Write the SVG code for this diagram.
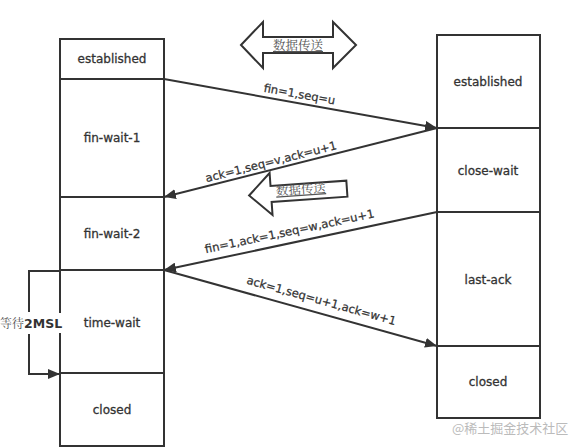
<svg xmlns="http://www.w3.org/2000/svg" width="572" height="448" viewBox="0 0 572 448">
<style>
.box{fill:#fff;stroke:#333;stroke-width:2}
.st{font-family:"DejaVu Sans","Liberation Sans",sans-serif;font-size:12px;fill:#333;stroke:#333;stroke-width:0.3;text-anchor:middle}
.lbl{font-family:"DejaVu Sans","Liberation Sans",sans-serif;font-size:11.5px;fill:#333;stroke:#333;stroke-width:0.25;text-anchor:middle}
.cn{font-family:"Noto Serif CJK SC","Noto Sans CJK SC",serif;font-size:12.5px;fill:#555;text-anchor:middle;text-decoration:underline}
.ln{fill:none;stroke:#333;stroke-width:2}
.big{fill:#fff;stroke:#333;stroke-width:2;stroke-linejoin:miter}
</style>
<defs>
<marker id="ah" viewBox="0 0 12 10" refX="12" refY="5" markerWidth="12" markerHeight="10" markerUnits="userSpaceOnUse" orient="auto">
<path d="M0,0 L12,5 L0,10 Z" fill="#333"/>
</marker>
</defs>
<rect width="572" height="448" fill="#fff"/>

<g id="client">
<g id="c-established"><rect class="box" x="60" y="39" width="104" height="40"/><text class="st" x="112" y="63">established</text></g>
<g id="c-finwait1"><rect class="box" x="60" y="79" width="104" height="118"/><text class="st" x="112" y="142">fin-wait-1</text></g>
<g id="c-finwait2"><rect class="box" x="60" y="197" width="104" height="73"/><text class="st" x="112" y="238">fin-wait-2</text></g>
<g id="c-timewait"><rect class="box" x="60" y="270" width="104" height="103"/><text class="st" x="112" y="327">time-wait</text></g>
<g id="c-closed"><rect class="box" x="60" y="373" width="104" height="73"/><text class="st" x="112" y="414">closed</text></g>
</g>

<g id="server">
<g id="s-established"><rect class="box" x="437" y="35" width="103" height="93"/><text class="st" x="488" y="86">established</text></g>
<g id="s-closewait"><rect class="box" x="437" y="128" width="103" height="84"/><text class="st" x="488" y="175">close-wait</text></g>
<g id="s-lastack"><rect class="box" x="437" y="212" width="103" height="134"/><text class="st" x="488" y="284">last-ack</text></g>
<g id="s-closed"><rect class="box" x="437" y="346" width="103" height="72"/><text class="st" x="488" y="386">closed</text></g>
</g>

<g id="data-transfer-both">
<polygon class="big" points="241,45 263,22 263,37 333,37 333,22 356,45 333,68 333,53 263,53 263,68"/>
<text class="cn" x="298" y="50">数据传送</text>
</g>

<g id="data-transfer-left" transform="translate(299,192) rotate(-4)">
<polygon class="big" points="-50,0 -28,-21 -28,-8 48,-8 48,8 -28,8 -28,21"/>
<text class="cn" x="2" y="2">数据传送</text>
</g>

<g id="connectors">
<line class="ln" x1="164" y1="79" x2="437" y2="128" marker-end="url(#ah)"/>
<line class="ln" x1="437" y1="128" x2="164" y2="197" marker-end="url(#ah)"/>
<line class="ln" x1="437" y1="212" x2="164" y2="270" marker-end="url(#ah)"/>
<line class="ln" x1="164" y1="270" x2="437" y2="346" marker-end="url(#ah)"/>
<polyline class="ln" points="60,271 29,271 29,312"/>
<polyline class="ln" points="29,334 29,374 60,374" marker-end="url(#ah)"/>
</g>

<g id="labels">
<text class="lbl" transform="translate(298,103) rotate(10.2)" y="-5">fin=1,seq=u</text>
<text class="lbl" transform="translate(273,169.5) rotate(-14.2)" y="-4">ack=1,seq=v,ack=u+1</text>
<text class="lbl" transform="translate(292,243) rotate(-12)" y="-8">fin=1,ack=1,seq=w,ack=u+1</text>
<text class="lbl" transform="translate(318,313) rotate(15.6)" y="-9">ack=1,seq=u+1,ack=w+1</text>
</g>

<g id="wait-2msl">
<rect x="0" y="313" width="63" height="20" fill="#fff"/>
<text x="0" y="328" font-family="Noto Serif CJK SC,Noto Sans CJK SC,serif" font-size="12" fill="#555">等待<tspan font-family="DejaVu Sans,Liberation Sans,sans-serif" font-size="12.5" font-weight="bold" fill="#333">2MSL</tspan></text>
</g>

<text x="452" y="433" font-family="Noto Sans CJK SC,sans-serif" font-size="13" fill="#bbb">@稀土掘金技术社区</text>
</svg>
